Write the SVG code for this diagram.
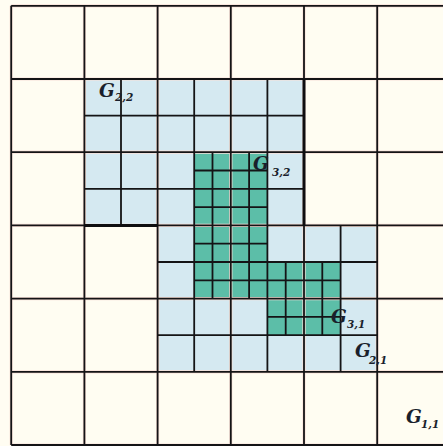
<svg xmlns="http://www.w3.org/2000/svg" width="443" height="446" viewBox="0 0 443 446">
  <style>
    .halo { fill: none; stroke: #f8e0d8; stroke-width: 3.2; }
    .ln { fill: none; stroke: #141416; stroke-width: 1.8; }
    .thick { fill: none; stroke: #0e0e10; stroke-width: 3; }
    .lbl { font-family: "DejaVu Serif", "Liberation Serif", serif; font-style: italic; font-weight: bold; fill: #1a1f2c; }
    .g { font-size: 18.5px; }
    .sub { font-size: 10.5px; }
  </style>
  <rect id="background" x="0" y="0" width="443" height="446" fill="#fffdf2"/>

  <g id="G2-region">
    <polygon points="84.4,79 304,79 304,225.4 377.2,225.4 377.2,371.8 157.6,371.8 157.6,225.4 84.4,225.4" fill="#d5e9f1"/>
  </g>
  <g id="G3-region">
    <polygon points="194.2,152.2 267.4,152.2 267.4,262 340.6,262 340.6,335.2 267.4,335.2 267.4,298.6 194.2,298.6" fill="#5cbea8"/>
  </g>

  <g id="G1-grid">
    <path class="halo" d="M11.2,5.8V445 M84.4,5.8V445 M157.6,5.8V445 M230.8,5.8V445 M304,5.8V445 M377.2,5.8V445 M11.2,5.8H443 M11.2,79H443 M11.2,152.2H443 M11.2,225.4H443 M11.2,298.6H443 M11.2,371.8H443 M11.2,445H443"/>
    <path class="ln" d="M11.2,5.8V445 M84.4,5.8V445 M157.6,5.8V445 M230.8,5.8V445 M304,5.8V445 M377.2,5.8V445 M11.2,5.8H443 M11.2,79H443 M11.2,152.2H443 M11.2,225.4H443 M11.2,298.6H443 M11.2,371.8H443 M11.2,445H443"/>
  </g>

  <g id="G2-grid">
    <path class="ln" d="M121,79V225.4 M194.2,79V225.4 M267.4,79V225.4 M194.2,225.4V371.8 M267.4,225.4V371.8 M340.6,225.4V371.8 M84.4,115.6H304 M84.4,188.8H304 M157.6,262H377.2 M157.6,335.2H377.2"/>
    <path class="thick" d="M304,79V225.4 M84.4,225.4H157.6"/>
  </g>

  <g id="G3-grid">
    <path class="ln" d="M212.5,152.2V298.6 M249.1,152.2V298.6 M285.7,262V335.2 M322.3,262V335.2 M194.2,170.5H267.4 M194.2,207.1H267.4 M194.2,243.7H267.4 M194.2,280.3H340.6 M267.4,316.9H340.6"/>
  </g>

  <g id="labels">
    <text class="lbl g" x="99" y="97">G<tspan class="sub" x="115" y="101">2,2</tspan></text>
    <text class="lbl g" x="253" y="170">G<tspan class="sub" x="272" y="176">3,2</tspan></text>
    <text class="lbl g" x="331" y="323">G<tspan class="sub" x="347" y="328">3,1</tspan></text>
    <text class="lbl g" x="355" y="357">G<tspan class="sub" x="369" y="364">2,1</tspan></text>
    <text class="lbl g" x="406" y="423">G<tspan class="sub" x="421" y="428">1,1</tspan></text>
  </g>
</svg>
